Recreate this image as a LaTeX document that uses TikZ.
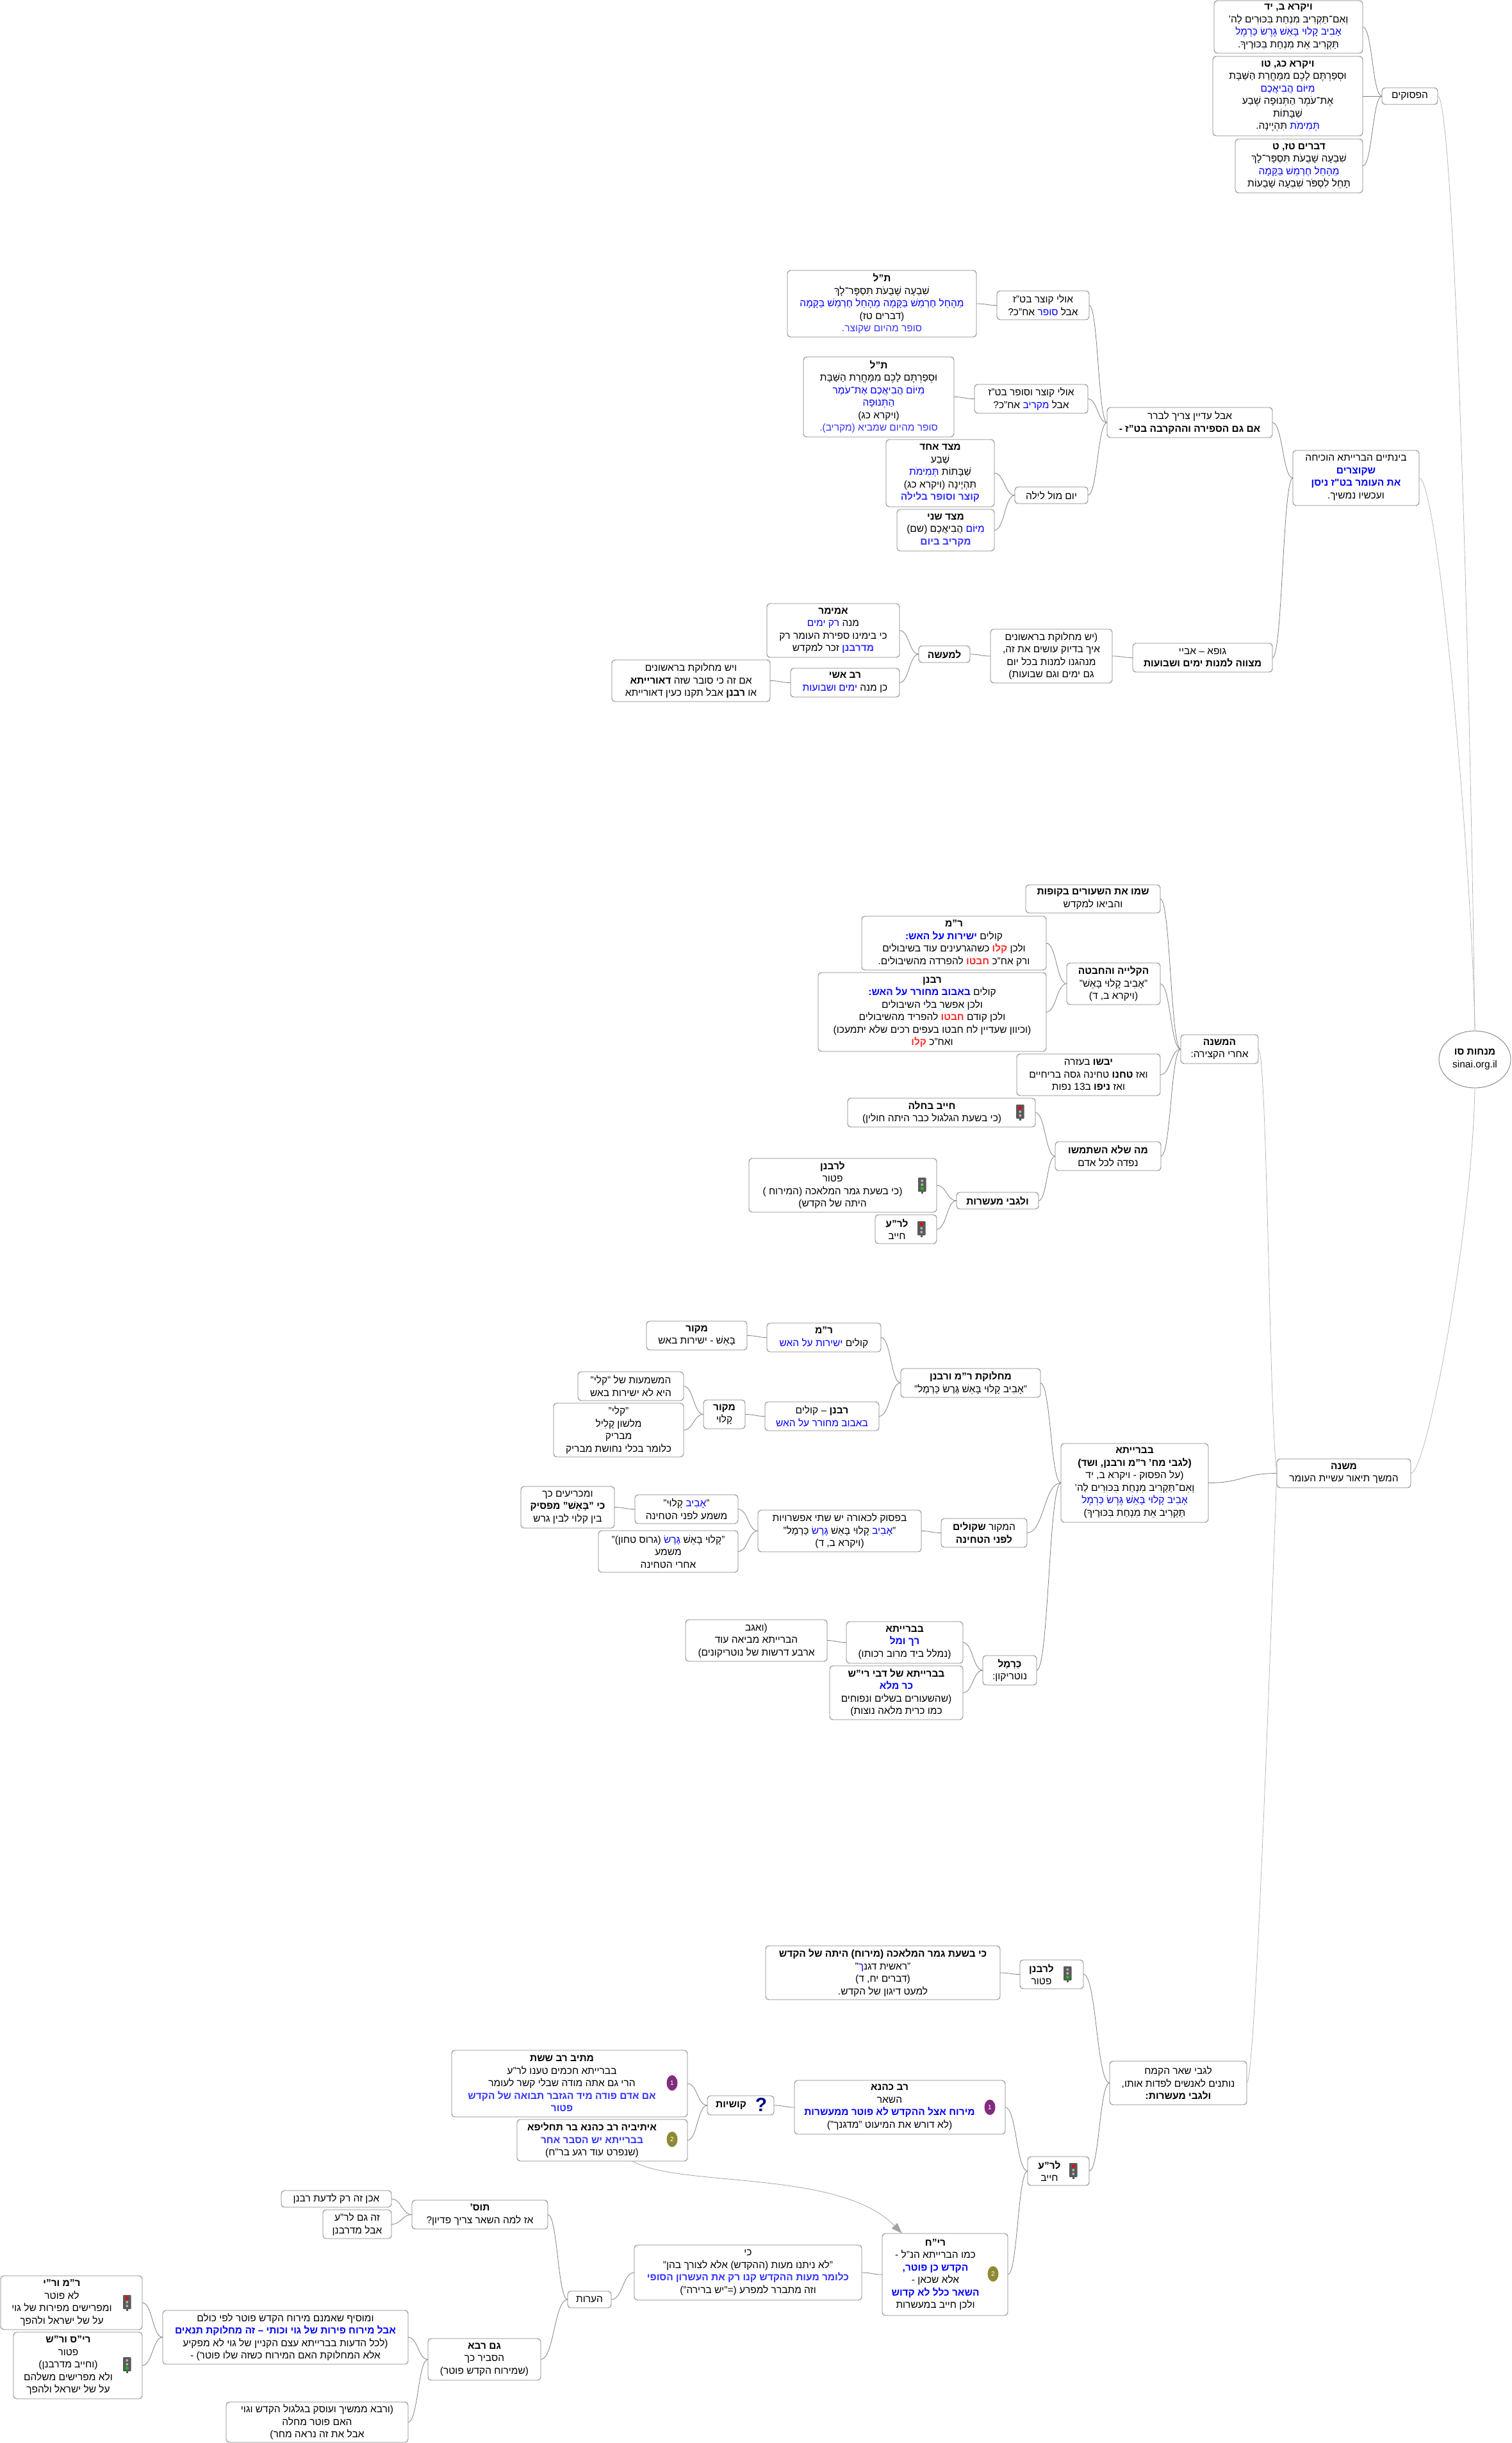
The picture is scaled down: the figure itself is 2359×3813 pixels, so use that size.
\documentclass[tikz,border=0pt]{standalone}
\usepackage{fontspec}
\setmainfont[Script=Hebrew]{Liberation Sans}
\newfontfamily\blufam[Script=Hebrew,Color=0000FF]{Liberation Sans}
\newfontfamily\lbufam[Script=Hebrew,Color=3333FF]{Liberation Sans}
\newfontfamily\redfam[Script=Hebrew,Color=FF2A2A]{Liberation Sans}
\usetikzlibrary{calc,shapes.geometric,arrows.meta}
\TeXXeTstate=1
\definecolor{bord}{HTML}{808080}
\definecolor{lnk}{HTML}{999999}
\def\xs{0pt}
\newcommand\rl[1]{\hspace*{\xs}\beginR #1\endR}
\newcommand\bld[1]{{\bfseries #1}}
\newcommand\blut[1]{{\blufam #1}}
\newcommand\lblt[1]{{\lbufam #1}}
\newcommand\redt[1]{{\redfam\bfseries #1}}
\tikzset{
 boxn/.style={draw=bord,line width=0.9pt,rounded corners=5pt,fill=white,inner sep=0pt,outer sep=0pt,align=center,
   font=\fontsize{15.5}{19.5}\selectfont},
 conn/.style={draw=bord,line width=0.8pt},
 connl/.style={draw=lnk!70,line width=0.8pt},
 numb/.style={ellipse,inner sep=0pt,minimum width=17pt,minimum height=24pt,text=white},
}
\newcommand\bx[7][0pt]{\def\xs{#1}%
 \node[boxn,minimum width={(#5-#3)*1pt},minimum height={(#6-#4)*1pt}] (#2) at ({(#3+#5)/2},{(#4+#6)/2}) {#7};}
\newcommand\cn[2]{\draw[conn] let \p1=(#1.east),\p2=(#2.west),\n1={0.5*(\x2-\x1)} in (\p1) .. controls +(\n1,0) and +(-\n1,0) .. (\p2);}
\newcommand\redl[2]{%
 \fill[rounded corners=1pt,black!65] (#1,#2) rectangle ++(12.5,22);
 \fill[black!65] ({#1+5},{#2+22}) rectangle ++(2.5,2.5);
 \fill[red] ({#1+6.25},{#2+5}) circle (2.6);
 \fill[black!30] ({#1+6.25},{#2+11}) circle (2);
 \fill[black!30] ({#1+6.25},{#2+17}) circle (2);}
\newcommand\grnl[2]{%
 \fill[rounded corners=1pt,black!65] (#1,#2) rectangle ++(12.5,22);
 \fill[black!65] ({#1+5},{#2+22}) rectangle ++(2.5,2.5);
 \fill[black!30] ({#1+6.25},{#2+5}) circle (2);
 \fill[black!30] ({#1+6.25},{#2+11}) circle (2);
 \fill[green!80!black] ({#1+6.25},{#2+17}) circle (2.6);}
\begin{document}
\begin{tikzpicture}[x=1pt,y=-1pt]
\useasboundingbox (0,0) rectangle (2359,3813);
% root
\node[ellipse,draw=bord,line width=0.9pt,fill=white,inner sep=0pt,minimum width=112pt,minimum height=89pt,align=center,font=\fontsize{15.5}{19.5}\selectfont] (root) at (2302,1653.5) {\rl{\bld{מנחות סו}}\\sinai.org.il};
% psukim
\bx{vay}{1895}{1}{2127}{83}{\rl{\bld{ויקרא ב, יד}}\\\rl{וְאִם־תַּקְרִיב מִנְחַת בִּכּוּרִים לַה'}\\\rl{\blut{אָבִיב קָלוּי בָּאֵשׁ גֶּרֶשׂ כַּרְמֶל}}\\\rl{תַּקְרִיב אֵת מִנְחַת בִּכּוּרֶיךָ.}}
\bx{vaykg}{1893}{88}{2127}{212}{\rl{\bld{ויקרא כג, טו}}\\\rl{וּסְפַרְתֶּם לָכֶם מִמָּחֳרַת הַשַּׁבָּת}\\\rl{\blut{מִיּוֹם הֲבִיאֲכֶם}}\\\rl{אֶת־עֹמֶר הַתְּנוּפָה שֶׁבַע}\\\rl{שַׁבָּתוֹת}\\\rl{\blut{תְּמִימֹת} תִּהְיֶינָה.}}
\bx{dvar}{1928}{217}{2127}{301}{\rl{\bld{דברים טז, ט}}\\\rl{שִׁבְעָה שָׁבֻעֹת תִּסְפָּר־לָךְ}\\\rl{\blut{מֵהָחֵל חֶרְמֵשׁ בַּקָּמָה}}\\\rl{תָּחֵל לִסְפֹּר שִׁבְעָה שָׁבֻעוֹת}}
\bx{psuk}{2157}{137}{2244}{163}{\rl{הפסוקים}}
% upper branch
\bx{tla}{1229}{422}{1524}{526}{\rl{\bld{ת"ל}}\\\rl{שִׁבְעָה שָׁבֻעֹת תִּסְפָּר־לָךְ}\\\rl{\blut{מֵהָחֵל חֶרְמֵשׁ בַּקָּמָה מֵהָחֵל חֶרְמֵשׁ בַּקָּמָה}}\\\rl{(דברים טז)}\\\rl{\lblt{סופר מהיום שקוצר.}}}
\bx{ulaa}{1556}{454}{1700}{499}{\rl{אולי קוצר בט"ז}\\\rl{אבל \blut{סופר} אח"כ?}}
\bx{tlb}{1254}{557}{1489}{682}{\rl{\bld{ת"ל}}\\\rl{וּסְפַרְתֶּם לָכֶם מִמָּחֳרַת הַשַּׁבָּת}\\\rl{\blut{מִיּוֹם הֲבִיאֲכֶם אֶת־עֹמֶר}}\\\rl{\blut{הַתְּנוּפָה}}\\\rl{(ויקרא כג)}\\\rl{\lblt{סופר מהיום שמביא (מקריב).}}}
\bx{ulab}{1521}{600}{1698}{645}{\rl{אולי קוצר וסופר בט"ז}\\\rl{אבל \blut{מקריב} אח"כ?}}
\bx{aval}{1728}{636}{1986}{683}{\rl{אבל עדיין צריך לברר}\\\rl{\bld{אם גם הספירה וההקרבה בט"ז -}}}
\bx{bin}{2018}{703}{2215}{789}{\rl{בינתיים הברייתא הוכיחה}\\\rl{\blut{\bld{שקוצרים}}}\\\rl{\blut{\bld{את העומר בט"ז ניסן}}}\\\rl{ועכשיו נמשיך.}}
\bx{mza}{1383}{686}{1552}{791}{\rl{\bld{מצד אחד}}\\\rl{שֶׁבַע}\\\rl{שַׁבָּתוֹת \blut{תְּמִימֹת}}\\\rl{תִּהְיֶינָה (ויקרא כג)}\\\rl{\lblt{\bld{קוצר וסופר בלילה}}}}
\bx{yom}{1584}{760}{1698}{786}{\rl{יום מול לילה}}
\bx{mzb}{1400}{795}{1552}{860}{\rl{\bld{מצד שני}}\\\rl{\blut{מִיּוֹם} הֲבִיאֲכֶם (שם)}\\\rl{\lblt{\bld{מקריב ביום}}}}
\bx{amim}{1197}{942}{1404}{1026}{\rl{\bld{אמימר}}\\\rl{מנה \blut{רק ימים}}\\\rl{כי בימינו ספירת העומר רק}\\\rl{\lblt{\bld{מדרבנן}} זכר למקדש}}
\bx{lema}{1434}{1008}{1514}{1034}{\rl{\bld{למעשה}}}
\bx{yesh}{1546}{982}{1736}{1066}{\rl{(יש מחלוקת בראשונים}\\\rl{איך בדיוק עושים את זה,}\\\rl{מנהגנו למנות בכל יום}\\\rl{גם ימים וגם שבועות)}}
\bx{guf}{1768}{1004}{1986}{1049}{\rl{גופא – אביי}\\\rl{\bld{מצווה למנות ימים ושבועות}}}
\bx{ashi}{1234}{1043}{1404}{1088}{\rl{\bld{רב אשי}}\\\rl{כן מנה \blut{ימים ושבועות}}}
\bx{vyesh}{955}{1030}{1202}{1095}{\rl{ויש מחלוקת בראשונים}\\\rl{אם זה כי סובר שזה \bld{דאורייתא}}\\\rl{או \bld{רבנן} אבל תקנו כעין דאורייתא}}
% hamishna
\bx{shamu}{1601}{1381}{1811}{1425}{\rl{\bld{שמו את השעורים בקופות}}\\\rl{והביאו למקדש}}
\bx{rma}{1345}{1430}{1633}{1514}{\rl{\bld{ר"מ}}\\\rl{קולים \blut{\bld{ישירות על האש:}}}\\\rl{ולכן \redt{קלו} כשהגרעינים עוד בשיבולים}\\\rl{ורק אח"כ \redt{חבטו} להפרדה מהשיבולים.}}
\bx{rab}{1277}{1518}{1633}{1641}{\rl{\bld{רבנן}}\\\rl{קולים \blut{\bld{באבוב מחורר על האש:}}}\\\rl{ולכן אפשר בלי השיבולים}\\\rl{ולכן קודם \redt{חבטו} להפריד מהשיבולים}\\\rl{(וכיוון שעדיין לח חבטו בעפים רכים שלא יתמעכו)}\\\rl{ואח"כ \redt{קלו}}}
\bx{kal}{1665}{1503}{1811}{1568}{\rl{\bld{הקלייה והחבטה}}\\\rl{"אָבִיב קָלוּי בָּאֵשׁ"}\\\rl{(ויקרא ב, ד)}}
\bx{hamish}{1843}{1615}{1964}{1660}{\rl{\bld{המשנה}}\\\rl{אחרי הקצירה:}}
\bx{yav}{1587}{1645}{1811}{1710}{\rl{\bld{יבשו} בעזרה}\\\rl{ואז \bld{טחנו} טחינה גסה בריחיים}\\\rl{ואז \bld{ניפו} ב\beginL13\endL{} נפות}}
\bx[-30pt]{hay}{1323}{1714}{1616}{1759}{\rl{\bld{חייב בחלה}}\\\rl{(כי בשעת הגלגול כבר היתה חולין)}}
\bx{masl}{1647}{1782}{1812}{1827}{\rl{\bld{מה שלא השתמשו}}\\\rl{נפדה לכל אדם}}
\bx[-32pt]{lrab}{1169}{1808}{1462}{1892}{\rl{\bld{לרבנן}}\\\rl{פטור}\\\rl{(כי בשעת גמר המלאכה (המירוח )}\\\rl{היתה של הקדש)}}
\bx{veleg}{1493}{1861}{1621}{1887}{\rl{\bld{ולגבי מעשרות}}}
\bx[-28pt]{lra}{1366}{1896}{1462}{1941}{\rl{\bld{לר"ע}}\\\rl{חייב}}
% mishna / braita
\bx{maka}{1009}{2062}{1166}{2107}{\rl{\bld{מקור}}\\\rl{בָּאֵשׁ - ישירות באש}}
\bx{rmb}{1197}{2065}{1375}{2110}{\rl{\bld{ר"מ}}\\\rl{קולים \blut{ישירות על האש}}}
\bx{mach}{1406}{2136}{1624}{2181}{\rl{\bld{מחלוקת ר"מ ורבנן}}\\\rl{"אָבִיב קָלוּי בָּאֵשׁ גֶּרֶשׂ כַּרְמֶל"}}
\bx{mash}{902}{2141}{1067}{2186}{\rl{המשמעות של "קלי"}\\\rl{היא לא ישירות באש}}
\bx{makb}{1098}{2185}{1163}{2230}{\rl{\bld{מקור}}\\\rl{קָלוּי}}
\bx{rabb}{1194}{2188}{1372}{2233}{\rl{\bld{רבנן} – קולים}\\\rl{\blut{באבוב מחורר על האש}}}
\bx{kli}{864}{2190}{1067}{2274}{\rl{"קלי"}\\\rl{מלשון קָלִיל}\\\rl{מבריק}\\\rl{כלומר בכלי נחושת מבריק}}
\bx{brai}{1656}{2253}{1886}{2376}{\rl{\bld{בברייתא}}\\\rl{\bld{(לגבי מח' ר"מ ורבנן, ושד)}}\\\rl{(על הפסוק - ויקרא ב, יד}\\\rl{וְאִם־תַּקְרִיב מִנְחַת בִּכּוּרִים לַה'}\\\rl{\blut{אָבִיב קָלוּי בָּאֵשׁ גֶּרֶשׂ כַּרְמֶל}}\\\rl{תַּקְרִיב אֵת מִנְחַת בִּכּוּרֶיךָ)}}
\bx{mishn}{1993}{2277}{2202}{2322}{\rl{\bld{משנה}}\\\rl{המשך תיאור עשיית העומר}}
\bx{umach}{813}{2320}{959}{2385}{\rl{ומכריעים כך}\\\rl{\bld{כי "בָּאֵשׁ" מפסיק}}\\\rl{בין קלוי לבין גרש}}
\bx{aviv}{991}{2333}{1152}{2378}{\rl{"\blut{אָבִיב} קָלוּי"}\\\rl{משמע לפני הטחינה}}
\bx{bapa}{1183}{2357}{1438}{2422}{\rl{בפסוק לכאורה יש שתי אפשרויות}\\\rl{"\blut{אָבִיב} קָלוּי בָּאֵשׁ \blut{גֶּרֶשׂ} כַּרְמֶל"}\\\rl{(ויקרא ב, ד)}}
\bx{hamak}{1469}{2370}{1603}{2415}{\rl{המקור \bld{שקולים}}\\\rl{\bld{לפני הטחינה}}}
\bx{kalu}{934}{2389}{1152}{2454}{\rl{"קָלוּי בָּאֵשׁ \blut{גֶּרֶשׂ} (גרוס טחון)"}\\\rl{משמע}\\\rl{אחרי הטחינה}}
\bx{veag}{1070}{2528}{1291}{2593}{\rl{(ואגב}\\\rl{הברייתא מביאה עוד}\\\rl{ארבע דרשות של נוטריקונים)}}
\bx{brb}{1321}{2531}{1503}{2596}{\rl{\bld{בברייתא}}\\\rl{\blut{\bld{רך ומל}}}\\\rl{(נמלל ביד מרוב רכותו)}}
\bx{brc}{1295}{2600}{1503}{2684}{\rl{\bld{בברייתא של דבי רי"ש}}\\\rl{\blut{\bld{כר מלא}}}\\\rl{(שהשעורים בשלים ונפוחים}\\\rl{כמו כרית מלאה נוצות)}}
\bx{carm}{1534}{2584}{1618}{2630}{\rl{\bld{כַּרְמֶל}}\\\rl{נוטריקון:}}
% kemach
\bx{kibe}{1195}{3037}{1561}{3121}{\rl{\bld{כי בשעת גמר המלאכה (מירוח) היתה של הקדש}}\\\rl{"ראשית דגנ\blut{ך}"}\\\rl{(דברים יח, ד)}\\\rl{למעט דיגון של הקדש.}}
\bx[-32pt]{lrb}{1592}{3059}{1691}{3104}{\rl{\bld{לרבנן}}\\\rl{פטור}}
\bx{leg}{1732}{3217}{1946}{3285}{\rl{לגבי שאר הקמח}\\\rl{נותנים לאנשים לפדות אותו,}\\\rl{\bld{ולגבי מעשרות:}}}
\bx[-32pt]{rk}{1240}{3247}{1569}{3331}{\rl{\bld{רב כהנא}}\\\rl{השאר}\\\rl{\blut{\bld{מירוח אצל ההקדש לא פוטר ממעשרות}}}\\\rl{(לא דורש את המיעוט "מדגנך")}}
\bx[-28pt]{lrc}{1604}{3366}{1700}{3411}{\rl{\bld{לר"ע}}\\\rl{חייב}}
\bx[-24pt]{mat}{705}{3200}{1073}{3304}{\rl{\bld{מתיב רב ששת}}\\\rl{בברייתא חכמים טענו לר"ע}\\\rl{הרי גם אתה מודה שבלי קשר לעומר}\\\rl{\lblt{\bld{אם אדם פודה מיד הגזבר תבואה של הקדש}}}\\\rl{\lblt{\bld{פטור}}}}
\bx[-32pt]{iti}{807}{3308}{1073}{3373}{\rl{\bld{איתיביה רב כהנא בר תחליפא}}\\\rl{\lblt{\bld{בברייתא יש הסבר אחר}}}\\\rl{(שנפרט עוד רגע בר"ח)}}
\bx[-30pt]{kush}{1104}{3271}{1208}{3301}{\rl{\bld{קושיות}}}
\bx{tos}{643}{3434}{855}{3479}{\rl{\bld{תוס'}}\\\rl{אז למה השאר צריך פדיון?}}
\bx{aken}{439}{3419}{611}{3445}{\rl{אכן זה רק לדעת רבנן}}
\bx{zeg}{504}{3449}{611}{3494}{\rl{זה גם לר"ע}\\\rl{אבל מדרבנן}}
\bx{heor}{886}{3576}{954}{3602}{\rl{הערות}}
\bx{kiy}{990}{3504}{1345}{3590}{\rl{כי}\\\rl{"לא ניתנו מעות (ההקדש) אלא לצורך בהן"}\\\rl{\lblt{\bld{כלומר מעות ההקדש קנו רק את העשרון הסופי}}}\\\rl{וזה מתברר למפרע (="יש ברירה")}}
\bx[-30pt]{chi}{1377}{3486}{1573}{3614}{\rl{\bld{רי"ח}}\\\rl{כמו הברייתא הנ"ל -}\\\rl{\blut{\bld{הקדש כן פוטר,}}}\\\rl{אלא שכאן -}\\\rl{\blut{\bld{השאר כלל לא קדוש}}}\\\rl{ולכן חייב במעשרות}}
\bx{gam}{668}{3650}{844}{3715}{\rl{\bld{גם רבא}}\\\rl{הסביר כך}\\\rl{(שמירוח הקדש פוטר)}}
\bx{umos}{254}{3606}{637}{3690}{\rl{ומוסיף שאמנם מירוח הקדש פוטר לפי כולם}\\\rl{\blut{\bld{אבל מירוח פירות של גוי וכותי – זה מחלוקת תנאים}}}\\\rl{(לכל הדעות בברייתא עצם הקניין של גוי לא מפקיע}\\\rl{אלא המחלוקת האם המירוח כשזה שלו פוטר) -}}
\bx{vera}{353}{3749}{637}{3812}{\rl{(ורבא ממשיך ועוסק בגלגול הקדש וגוי}\\\rl{האם פוטר מחלה}\\\rl{אבל את זה נראה מחר)}}
\bx[-30pt]{rmv}{1}{3552}{222}{3636}{\rl{\bld{ר"מ ור"י}}\\\rl{לא פוטר}\\\rl{ומפרישים מפירות של גוי}\\\rl{על של ישראל ולהפך}}
\bx[-30pt]{ris}{21}{3640}{222}{3744}{\rl{\bld{רי"ס ור"ש}}\\\rl{פטור}\\\rl{(וחייב מדרבנן)}\\\rl{ולא מפרישים משלהם}\\\rl{על של ישראל ולהפך}}
% connectors
\cn{vay}{psuk}\cn{vaykg}{psuk}\cn{dvar}{psuk}
\cn{tla}{ulaa}\cn{tlb}{ulab}\cn{ulaa}{aval}\cn{ulab}{aval}\cn{yom}{aval}\cn{mza}{yom}\cn{mzb}{yom}
\cn{aval}{bin}\cn{guf}{bin}\cn{yesh}{guf}\cn{lema}{yesh}\cn{amim}{lema}\cn{ashi}{lema}\cn{vyesh}{ashi}
\cn{shamu}{hamish}\cn{kal}{hamish}\cn{yav}{hamish}\cn{masl}{hamish}\cn{rma}{kal}\cn{rab}{kal}
\cn{hay}{masl}\cn{veleg}{masl}\cn{lrab}{veleg}\cn{lra}{veleg}
\cn{maka}{rmb}\cn{mash}{makb}\cn{kli}{makb}\cn{makb}{rabb}\cn{rmb}{mach}\cn{rabb}{mach}
\cn{mach}{brai}\cn{hamak}{brai}\cn{carm}{brai}\cn{bapa}{hamak}\cn{aviv}{bapa}\cn{kalu}{bapa}\cn{umach}{aviv}
\cn{veag}{brb}\cn{brb}{carm}\cn{brc}{carm}\cn{brai}{mishn}
\cn{kibe}{lrb}\cn{lrb}{leg}\cn{lrc}{leg}\cn{rk}{lrc}\cn{chi}{lrc}\cn{kush}{rk}\cn{mat}{kush}\cn{iti}{kush}
\cn{kiy}{chi}\cn{heor}{kiy}\cn{tos}{heor}\cn{gam}{heor}\cn{aken}{tos}\cn{zeg}{tos}\cn{umos}{gam}\cn{vera}{gam}\cn{rmv}{umos}\cn{ris}{umos}
\draw[connl] (hamish.east) .. controls +(14,0) and +(-12,-80) .. (mishn.west);
\draw[connl] (leg.east) .. controls +(14,0) and +(-8,200) .. (mishn.west);
\draw[connl] (psuk.east) .. controls +(25,0) and +(-8,-600) .. (root.north);
\draw[connl] (bin.east) .. controls +(30,0) and +(-4,-250) .. (root.north);
\draw[connl] (mishn.east) .. controls +(25,0) and +(-4,220) .. (root.south);
\draw[lnk!90,line width=0.8pt,-{Triangle[length=17pt,width=12pt]}] ([xshift=47pt]iti.south) .. controls +(73,42) and +(-98,-101) .. ([xshift=-67pt]chi.north);
% icons
\redl{1586}{1724}\grnl{1433}{1838}\redl{1432}{1906}\grnl{1660}{3069}\redl{1669}{3376}\redl{192}{3582}\grnl{192}{3679}
\node[numb,fill=violet!65!gray] (nb1) at (1545,3289) {1};
\node[numb,fill=violet!65!gray] (nb2) at (1049,3251) {1};
\node[numb,fill=olive!65!gray] (nb3) at (1049,3339) {2};
\node[numb,fill=olive!65!gray] (nb4) at (1550,3549) {2};
\node[inner sep=0pt,text=blue!50!black,font=\fontsize{30}{30}\selectfont\bfseries] (qm) at (1188,3285) {?};
\end{tikzpicture}
\end{document}
